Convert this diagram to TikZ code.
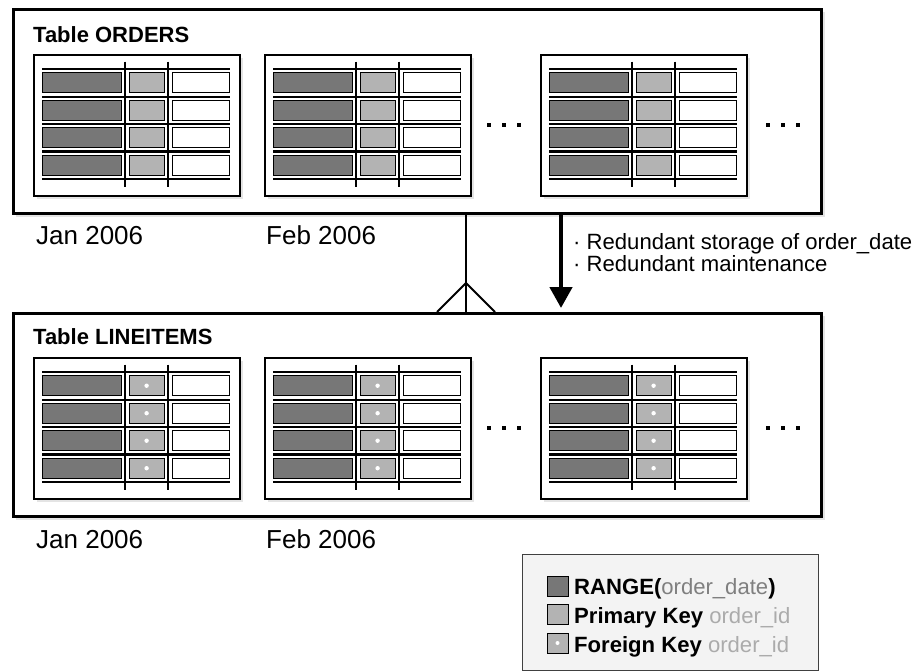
\documentclass[tikz,border=0pt]{standalone}
\usepackage{fontspec}
\setmainfont{Liberation Sans}
\usetikzlibrary{arrows.meta,calc}
\definecolor{darkc}{HTML}{777777}
\definecolor{midc}{HTML}{B3B3B3}
\definecolor{shad}{HTML}{E4E4E4}
\definecolor{legbg}{HTML}{F3F3F3}
\definecolor{gtxt}{HTML}{7F7F7F}
\definecolor{ltxt}{HTML}{ABABAB}
\tikzset{
  outerbox/.style={draw=black, line width=2.5pt, fill=white, minimum width=808pt, inner sep=0pt, anchor=north west},
  partframe/.style={draw=black, line width=2pt, fill=white, minimum width=206pt, minimum height=141pt, inner sep=0pt},
  gridline/.style={line width=2.3pt, black},
  cellc/.style={draw=black, line width=0.9pt},
  txt/.style={inner sep=0pt, anchor=base west, font=\fontsize{22.1}{26}\selectfont},
  datetxt/.style={inner sep=0pt, anchor=base west, font=\fontsize{26}{30}\selectfont},
  titletxt/.style={inner sep=0pt, anchor=base west, font=\fontsize{22}{26}\selectfont\bfseries},
  dotc/.style={fill=black},
}
\newcommand\partbox[4]{%
  \fill[shad] (#1+4,#2+4) rectangle (#1+210,#2+145);
  \node[partframe, anchor=north west] (#4) at (#1,#2) {};
  \foreach \k in {0,1,2,3} {
    \pgfmathsetmacro\rt{#2+18.7+27.5*\k}
    \draw[cellc, fill=darkc] (#1+9,\rt) rectangle (#1+88,\rt+20);
    \draw[cellc, fill=midc] (#1+96.3,\rt) rectangle (#1+131,\rt+20);
    \draw[cellc, fill=white] (#1+139,\rt) rectangle (#1+196,\rt+20);
    \ifnum#3=1 \fill[white] (#1+113.6,\rt+10) circle (2.2pt);\fi
  }
  \foreach \yy in {15,42.7,70,97.5,125} {\draw[gridline] (#1+9,#2+\yy) -- (#1+197,#2+\yy);}
  \foreach \xx in {92.3,135.3} {\draw[gridline] (#1+\xx,#2+7.7) -- (#1+\xx,#2+132.7);}
}
\newcommand\threedots[2]{%
  \foreach \xx in {0,15,30} {\fill[dotc] (#1+\xx-2.3,#2-2.3) rectangle (#1+\xx+2.3,#2+2.3);}
}
\begin{document}
\begin{tikzpicture}[x=1pt,y=-1pt]
\useasboundingbox (0,0) rectangle (916,672);
% ORDERS
\fill[shad] (16,12) rectangle (825,217);
\node[outerbox, minimum height=204pt] (orders) at (12,8) {};
\node[titletxt] (t1) at (33,42) {Table ORDERS};
\partbox{33}{54}{0}{o1}
\partbox{264}{54}{0}{o2}
\partbox{540}{54}{0}{o3}
\threedots{489}{125}
\threedots{768}{125}
\node[datetxt] (d1) at (36,244) {Jan 2006};
\node[datetxt] (d2) at (266,244) {Feb 2006};
% LINEITEMS
\fill[shad] (16,316) rectangle (825,520);
\node[outerbox, minimum height=203pt] (lineitems) at (12,312) {};
\node[titletxt] (t2) at (33,344) {Table LINEITEMS};
\partbox{33}{357}{1}{l1}
\partbox{264}{357}{1}{l2}
\partbox{540}{357}{1}{l3}
\threedots{489}{428}
\threedots{768}{428}
\node[datetxt] (d3) at (36,548) {Jan 2006};
\node[datetxt] (d4) at (266,548) {Feb 2006};
% connectors
\coordinate (rx) at (466,0);
\coordinate (ax) at (561,0);
\coordinate (cf) at (466,283);
\draw[line width=2pt] (orders.south -| rx) -- (lineitems.north -| rx);
\draw[line width=2pt] (437,312) -- (cf) -- (495,312);
\draw[line width=4.5pt, -{Triangle[length=21pt,width=22pt]}] (orders.south -| ax) -- ($(lineitems.north -| ax)+(0,-4)$);
\node[txt] (b1) at (573,249) {· Redundant storage of order\_date};
\node[txt] (b2) at (573,271) {· Redundant maintenance};
% legend
\node[draw=black!75, line width=1pt, fill=legbg, minimum width=296pt, minimum height=116pt, inner sep=0pt, anchor=north west] (legend) at (522,554) {};
\draw[cellc, fill=darkc] (547,576) rectangle (568,596);
\draw[cellc, fill=midc] (547,604) rectangle (568,624);
\draw[cellc, fill=midc] (547,633) rectangle (568,653);
\fill[white] (557.5,643) circle (2pt);
\node[txt] (g1) at (574,594) {\textbf{RANGE(}\textcolor{gtxt}{order\_date}\textbf{)}};
\node[txt] (g2) at (574,623) {\textbf{Primary Key} \textcolor{ltxt}{order\_id}};
\node[txt] (g3) at (574,652) {\textbf{Foreign Key} \textcolor{ltxt}{order\_id}};
\end{tikzpicture}
\end{document}
